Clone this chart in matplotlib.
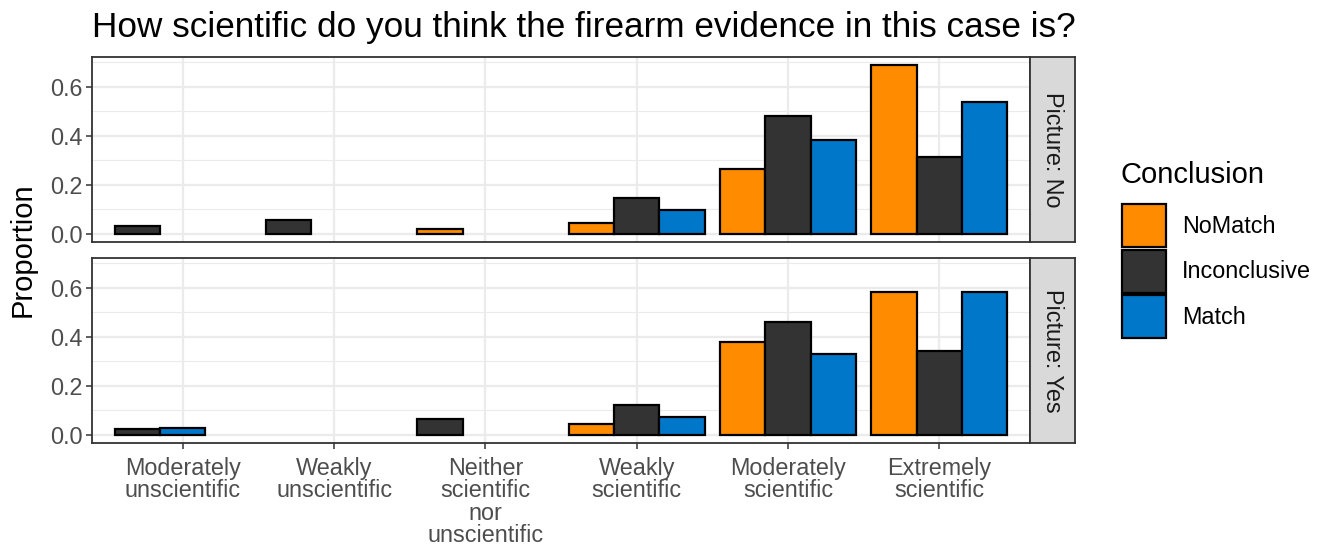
import numpy as np
import matplotlib.pyplot as plt
from matplotlib.patches import Patch

plt.rcParams['font.family'] = ['Liberation Sans', 'DejaVu Sans']

categories = ["Moderately\nunscientific", "Weakly\nunscientific",
              "Neither\nscientific\nnor\nunscientific", "Weakly\nscientific",
              "Moderately\nscientific", "Extremely\nscientific"]
conclusions = ["NoMatch", "Inconclusive", "Match"]
colors = {"NoMatch": "#FF8C00", "Inconclusive": "#333333", "Match": "#0077C8"}
panels = ["Picture: No", "Picture: Yes"]

# proportions, None = no bar
no_nomatch = [None, None, 0.020, 0.044, 0.266, 0.688]
no_inconcl = [0.029, 0.057, None, 0.144, 0.480, 0.312]
no_match = [None, None, None, 0.098, 0.383, 0.537]

yes_nomatch = [None, None, None, 0.044, 0.377, 0.585]
yes_inconcl = [0.021, None, 0.064, 0.121, 0.461, 0.341]
yes_match = [0.027, None, None, 0.071, 0.328, 0.583]

data = {
    "Picture: No": [no_nomatch, no_inconcl, no_match],
    "Picture: Yes": [yes_nomatch, yes_inconcl, yes_match],
}

W, H = 1331, 557
fig = plt.figure(figsize=(W / 100, H / 100), dpi=100)

def px(x0, y0, x1, y1):
    return [x0 / W, 1 - y1 / H, (x1 - x0) / W, (y1 - y0) / H]

panel_boxes = [(92, 57, 1030, 242), (92, 258, 1030, 443)]
x = np.arange(1, len(categories) + 1)
bw = 0.3
small = 16.8

for p, (name, box) in enumerate(zip(panels, panel_boxes)):
    ax = fig.add_axes(px(*box))
    series = data[name]
    for i in range(len(categories)):
        # dodge like ggplot: present groups fill slots from the left
        slot = 0
        for k, concl in enumerate(conclusions):
            v = series[k][i]
            if v is None:
                continue
            ax.bar(x[i] - 0.45 + bw * (slot + 0.5), v, width=bw,
                   color=colors[concl], edgecolor="black", linewidth=1.6,
                   zorder=3)
            slot += 1
    ax.set_xlim(0.4, 6.6)
    ax.set_ylim(-0.0345, 0.7225)
    ax.set_yticks([0.0, 0.2, 0.4, 0.6])
    ax.set_yticklabels(["0.0", "0.2", "0.4", "0.6"])
    ax.set_yticks([0.1, 0.3, 0.5, 0.7], minor=True)
    ax.set_xticks(x)
    ax.grid(which="major", color="#EBEBEB", linewidth=1.6, zorder=0)
    ax.grid(which="minor", axis="y", color="#EBEBEB", linewidth=0.8, zorder=0)
    ax.set_axisbelow(True)
    for s in ax.spines.values():
        s.set_color("#333333")
        s.set_linewidth(1.3)
    ax.tick_params(axis="both", which="major", colors="#333333", length=4,
                   width=1.1, labelsize=small, labelcolor="#4D4D4D", pad=3)
    ax.tick_params(which="minor", length=0)
    if p == 0:
        ax.set_xticklabels([])
        ax.tick_params(axis="x", length=0)
    else:
        ax.set_xticklabels(categories, linespacing=0.97)
        ax.tick_params(axis="x", pad=6)

    # facet strip
    sax = fig.add_axes(px(1030, box[1], 1075, box[3]))
    sax.set_xticks([])
    sax.set_yticks([])
    sax.set_facecolor("#D9D9D9")
    for s in sax.spines.values():
        s.set_color("#333333")
        s.set_linewidth(1.3)
    sax.text(0.5, 0.5, name, rotation=-90, ha="center", va="center",
             fontsize=small, color="#1A1A1A", transform=sax.transAxes)

fig.text(92 / W, 1 - 27 / H, "How scientific do you think the firearm evidence in this case is?",
         fontsize=25.3, ha="left", va="center", color="black")
fig.text(23 / W, 1 - 250 / H, "Proportion", rotation=90, fontsize=21,
         ha="center", va="center", color="black")

fig.text(1121 / W, 1 - 175 / H, "Conclusion", fontsize=21, ha="left",
         va="center", color="black")
handles = [Patch(facecolor=colors[c], edgecolor="black", linewidth=1.6) for c in conclusions]
leg = fig.legend(handles, conclusions, loc="upper left",
                 bbox_to_anchor=(1113 / W, 1 - 195 / H), frameon=False,
                 fontsize=small, handlelength=1.85, handleheight=2.46,
                 handletextpad=0.7, labelspacing=0.1, borderaxespad=0)

fig.savefig("out.png", dpi=100)
